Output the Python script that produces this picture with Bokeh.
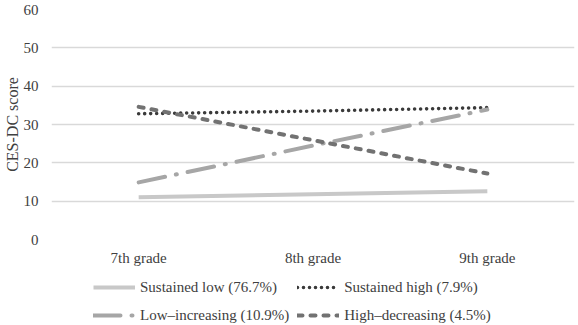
from bokeh.plotting import figure
from bokeh.layouts import column
from bokeh.models import Range1d, FactorRange, Legend, LegendItem, SingleIntervalTicker
from bokeh.embed import file_html
from bokeh.resources import INLINE

# Mean CES-DC score per trajectory class across grades
grades = ["7th grade", "8th grade", "9th grade"]
sustained_low = [11.0, 11.8, 12.6]
sustained_high = [32.8, 33.5, 34.4]
low_increasing = [14.9, 24.5, 33.9]
high_decreasing = [34.6, 25.9, 17.2]

labels = [
    "Sustained low (76.7%)",
    "Sustained high (7.9%)",
    "Low\u2013increasing (10.9%)",
    "High\u2013decreasing (4.5%)",
]

FONT = "'Liberation Serif', serif"
TEXT = "#404040"

# Line styles per trajectory class
styles = [
    dict(line_color="#c8c8c8", line_width=4),
    dict(line_color="#3a3a3a", line_width=3.6, line_dash="0 6", line_cap="round"),
    dict(line_color="#a6a6a6", line_width=4, line_dash="27 11 1 11", line_cap="round"),
    dict(line_color="#727272", line_width=4, line_dash="5 8", line_cap="round"),
]
series = [sustained_low, sustained_high, low_increasing, high_decreasing]

p = figure(
    width=578, height=268,
    x_range=FactorRange(*grades, range_padding=0),
    y_range=Range1d(0, 60),
    output_backend="svg", toolbar_location=None,
    min_border_left=50, min_border_right=4, min_border_top=9, min_border_bottom=0,
    outline_line_color=None,
)

for vals, st in zip(series, styles):
    p.line(grades, vals, **st)

# Axes
for ax in (p.xaxis[0], p.yaxis[0]):
    ax.axis_line_color = None
    ax.major_tick_line_color = None
    ax.minor_tick_line_color = None
    ax.major_tick_out = 0
    ax.major_label_text_font = FONT
    ax.major_label_text_font_size = "15px"
    ax.major_label_text_color = TEXT
p.xaxis.major_label_standoff = 10
p.yaxis.major_label_standoff = 9

p.yaxis.ticker = SingleIntervalTicker(interval=10)
p.yaxis.axis_label = "CES-DC score"
p.yaxis.axis_label_text_font = FONT
p.yaxis.axis_label_text_font_size = "16px"
p.yaxis.axis_label_text_font_style = "normal"
p.yaxis.axis_label_text_color = TEXT
p.yaxis.axis_label_standoff = 0

p.xgrid.grid_line_color = None
p.ygrid.grid_line_color = "#d9d9d9"
p.ygrid.grid_line_width = 1.5

# Legend strip underneath the chart (its frame lines up with the chart's frame)
leg = figure(
    width=578, height=57,
    x_range=Range1d(0, 1), y_range=Range1d(0, 1),
    output_backend="svg", toolbar_location=None,
    x_axis_location=None, y_axis_location=None,
    min_border=0, outline_line_color=None,
)
leg.xgrid.visible = False
leg.ygrid.visible = False
nan = float("nan")
keys = [leg.line(x=[nan], y=[nan], **st) for st in styles]

# legend fills column by column: order items so rows read low/high, increasing/decreasing
order = [0, 2, 1, 3]
legend = Legend(
    items=[LegendItem(label=labels[i], renderers=[keys[i]]) for i in order],
    ncols=2,
    location=(42, 0),
    margin=0, padding=0, spacing=8,
    glyph_width=42, glyph_height=20, label_height=20,
    label_standoff=5,
    label_text_font=FONT, label_text_font_size="15px", label_text_color=TEXT,
    border_line_color=None, background_fill_alpha=0,
)
leg.add_layout(legend, "center")

layout = column(p, leg, spacing=0)
open("out.html", "w").write(file_html(layout, INLINE))
